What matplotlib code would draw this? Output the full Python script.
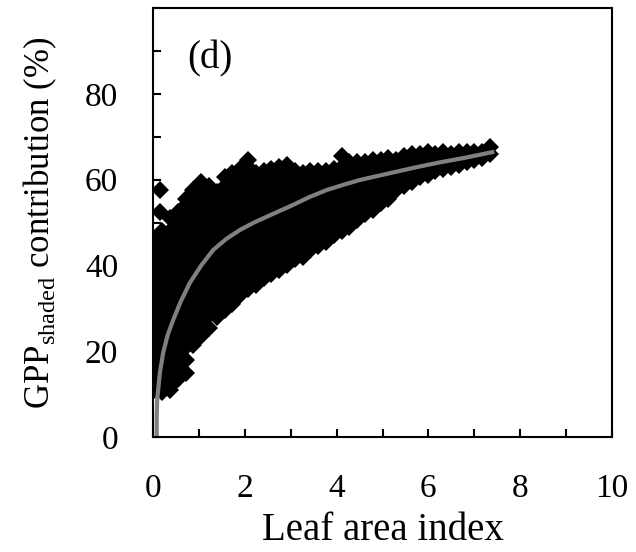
import matplotlib
matplotlib.use("Agg")
import matplotlib.pyplot as plt

plt.rcParams["font.family"] = ["Liberation Serif", "DejaVu Serif"]
plt.rcParams["mathtext.fontset"] = "custom"
plt.rcParams["mathtext.rm"] = "Liberation Serif"

# scatter cloud, column by column: (LAI, [GPP_shaded %, ...])
cloud_cols = [
    (0.03, [11, 12, 15, 18, 21, 24, 27, 30, 33, 36, 39, 42, 45, 46]),
    (0.15, [52.5, 57.5]),
    (0.20, [10.5, 13.5, 16.5, 19.5, 22.5, 25.5, 28.5, 31.5, 34.5, 37.5, 40.5, 43.5, 46.5, 48]),
    (0.37, [11, 12, 15, 18, 21, 24, 27, 30, 33, 36, 39, 42, 45, 48, 51]),
    (0.54, [13.5, 16.5, 19.5, 22.5, 25.5, 28.5, 31.5, 34.5, 37.5, 40.5, 43.5, 46.5, 49.5, 52.5]),
    (0.71, [15, 18, 21, 24, 27, 30, 33, 36, 39, 42, 45, 48, 51, 54, 55.5]),
    (0.88, [21.5, 22.5, 25.5, 28.5, 31.5, 34.5, 37.5, 40.5, 43.5, 46.5, 49.5, 52.5, 55.5, 57.5]),
    (1.05, [23.5, 24, 27, 30, 33, 36, 39, 42, 45, 48, 51, 54, 57, 59.5]),
    (1.22, [25.5, 28.5, 31.5, 34.5, 37.5, 40.5, 43.5, 46.5, 49.5, 52.5, 55.5, 58.5]),
    (1.39, [28, 30, 33, 36, 39, 42, 45, 48, 51, 54, 57]),
    (1.56, [29.5, 31.5, 34.5, 37.5, 40.5, 43.5, 46.5, 49.5, 52.5, 55.5, 58.5, 60.5]),
    (1.73, [31, 33, 36, 39, 42, 45, 48, 51, 54, 57, 60, 61.5]),
    (1.90, [33, 34.5, 37.5, 40.5, 43.5, 46.5, 49.5, 52.5, 55.5, 58.5, 61.5, 62.5]),
    (2.07, [34.5, 36, 39, 42, 45, 48, 51, 54, 57, 60, 63, 64.5]),
    (2.24, [35.5, 37.5, 40.5, 43.5, 46.5, 49.5, 52.5, 55.5, 58.5, 61.5]),
    (2.41, [37, 39, 42, 45, 48, 51, 54, 57, 60, 62]),
    (2.58, [38, 40.5, 43.5, 46.5, 49.5, 52.5, 55.5, 58.5, 61.5, 62.5]),
    (2.75, [39, 42, 45, 48, 51, 54, 57, 60, 63]),
    (2.92, [40, 43.5, 46.5, 49.5, 52.5, 55.5, 58.5, 61.5, 63.5]),
    (3.09, [41.5, 45, 48, 51, 54, 57, 60, 62]),
    (3.26, [42, 43.5, 46.5, 49.5, 52.5, 55.5, 58.5, 61.5]),
    (3.43, [43.5, 45, 48, 51, 54, 57, 60, 62]),
    (3.60, [44.5, 46.5, 49.5, 52.5, 55.5, 58.5, 61.5, 62]),
    (3.77, [45.5, 48, 51, 54, 57, 60, 62]),
    (3.94, [47, 49.5, 52.5, 55.5, 58.5, 61.5, 62.5]),
    (4.11, [48, 51, 54, 57, 60, 63, 65.5]),
    (4.28, [49, 52.5, 55.5, 58.5, 61.5, 64]),
    (4.45, [50.5, 54, 57, 60, 63, 64]),
    (4.62, [52, 55.5, 58.5, 61.5, 64]),
    (4.79, [53, 54, 57, 60, 63, 64.5]),
    (4.96, [54.5, 55.5, 58.5, 61.5, 64.5]),
    (5.13, [55.5, 57, 60, 63, 65]),
    (5.30, [57.5, 58.5, 61.5, 64.5]),
    (5.47, [58.5, 60, 63, 65.5]),
    (5.64, [59.5, 61.5, 64.5, 66]),
    (5.81, [60.5, 63, 66]),
    (5.98, [61, 64.5, 66.5]),
    (6.15, [62, 63, 66]),
    (6.32, [62.5, 64.5, 66.5]),
    (6.49, [63, 66]),
    (6.66, [63.5, 66.5]),
    (6.83, [64, 66.5]),
    (7.00, [64.5, 66.5]),
    (7.17, [65, 66.5]),
    (7.34, [66, 67.5]),
]

# fitted curve (grey line)
fit_lai = [0.08, 0.08, 0.09, 0.15, 0.22, 0.32, 0.44, 0.60, 0.80, 1.05, 1.31, 1.60,
           1.90, 2.20, 2.55, 3.05, 3.40, 3.79, 4.15, 4.50, 5.16, 5.70, 6.19, 6.80, 7.39]
fit_gpp = [0.0, 5.0, 8.6, 15.0, 19.6, 23.8, 27.3, 31.5, 35.9, 40.0, 43.6, 46.2,
           48.3, 50.0, 51.7, 54.1, 55.9, 57.6, 58.8, 59.9, 61.5, 62.8, 63.9, 65.1, 66.4]

lai = [x for x, ys in cloud_cols for _ in ys]
gpp = [y for _, ys in cloud_cols for y in ys]

fig = plt.figure(figsize=(6.36, 5.52), dpi=100)
ax = fig.add_axes([0.2406, 0.2083, 0.7217, 0.7772])

ax.plot(lai, gpp, ls="none", marker="D", ms=8.8, color="black", mec="black", mew=0)
ax.plot(fit_lai, fit_gpp, color="#808080", lw=3)

ax.set_xlim(0, 10)
ax.set_ylim(0, 100)
ax.set_xticks(range(0, 11))
ax.set_xticklabels([str(v) if v % 2 == 0 else "" for v in range(0, 11)])
ax.set_yticks(range(0, 101, 10))
ax.set_yticklabels([str(v) if v % 20 == 0 and v < 100 else "" for v in range(0, 101, 10)])
ax.tick_params(direction="in", length=6, width=1.5, labelsize=24)
ax.tick_params(axis="x", pad=26)
ax.tick_params(axis="y", pad=25)
for s in ax.spines.values():
    s.set_linewidth(1.5)

ax.set_xlabel("Leaf area index", fontsize=28, labelpad=6)
ax.set_ylabel(r"GPP$_{\mathrm{shaded}}$ contribution (%)", fontsize=25, labelpad=19)
ax.text(0.74, 86, "(d)", fontsize=28, ha="left", va="baseline")

fig.savefig("out.png", dpi=100)
